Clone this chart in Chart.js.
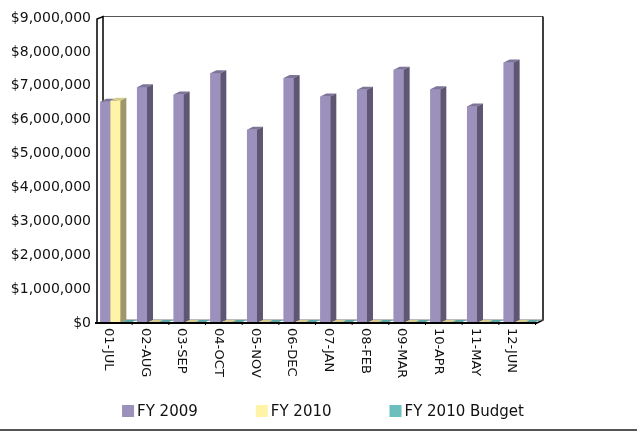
<!DOCTYPE html>
<html>
<head>
<meta charset="utf-8">
<script src="https://cdn.jsdelivr.net/npm/chart.js@4/dist/chart.umd.min.js"></script>
<style>
html,body{margin:0;padding:0;background:#fff;}
#wrap{position:relative;width:637px;height:433px;}
</style>
</head>
<body>
<div id="wrap"><canvas id="c"></canvas></div>
<script>
// ---- data ----
const months = ['01-JUL','02-AUG','03-SEP','04-OCT','05-NOV','06-DEC','07-JAN','08-FEB','09-MAR','10-APR','11-MAY','12-JUN'];
const fy2009 = [6530000, 6960000, 6740000, 7370000, 5700000, 7230000, 6680000, 6880000, 7470000, 6900000, 6390000, 7690000];
const fy2010 = [6560000, 0, 0, 0, 0, 0, 0, 0, 0, 0, 0, 0];
const fy2010Budget = [0, 0, 0, 0, 0, 0, 0, 0, 0, 0, 0, 0];
const seriesNames = ['FY 2009', 'FY 2010', 'FY 2010 Budget'];
const yMax = 9000000;
const yStep = 1000000;

// ---- styles ----
const frontColors = ['#9C91BD', '#FFF3A8', '#6CBFBD'];
const topColors   = ['#7E7499', '#D8CD8C', '#58A6A4'];
const sideColors  = ['#5E5673', '#9E976A', '#3F7F7E'];
const DX = 6, DY = 3;

const threeD = {
  id: 'threeD',
  beforeDatasetsDraw(chart) {
    const {ctx, chartArea: a} = chart;
    ctx.save();
    ctx.strokeStyle = '#555';
    ctx.lineWidth = 1;
    ctx.beginPath();
    ctx.moveTo(a.left + DX, a.top - DY + 1.5);
    ctx.lineTo(a.right + DX, a.top - DY + 1.5);
    ctx.stroke();
    ctx.strokeStyle = '#000';
    ctx.lineWidth = 1.5;
    ctx.beginPath();
    ctx.moveTo(a.right + DX, a.top - DY + 1.5);
    ctx.lineTo(a.right + DX, a.bottom - DY);
    ctx.lineTo(a.right, a.bottom);
    ctx.stroke();
    ctx.beginPath();
    ctx.moveTo(a.left, a.bottom);
    ctx.lineTo(a.left, a.top + 1);
    ctx.lineTo(a.left + DX, a.top - DY + 1.5);
    ctx.lineTo(a.left + DX, a.bottom - DY);
    ctx.stroke();
    ctx.strokeStyle = '#777';
    ctx.lineWidth = 1;
    ctx.beginPath();
    ctx.moveTo(a.left + DX, a.bottom - DY);
    ctx.lineTo(a.right + DX, a.bottom - DY);
    ctx.stroke();
    ctx.restore();
  },
  afterDatasetsDraw(chart) {
    const {ctx, chartArea: a} = chart;
    const metas = [0, 1, 2].map(i => chart.getDatasetMeta(i));
    ctx.save();
    for (let i = 0; i < months.length; i++) {
      metas.forEach((meta, d) => {
        const el = meta.data[i];
        if (!el) return;
        const w = el.width, l = el.x - w / 2, r = el.x + w / 2;
        const top = Math.min(el.y, el.base), base = el.base;
        if (base - top > 0) {
          ctx.fillStyle = frontColors[d];
          ctx.fillRect(l, top, w, base - top);
        }
        ctx.fillStyle = topColors[d];
        ctx.beginPath();
        ctx.moveTo(l, top);
        ctx.lineTo(l + DX, top - DY);
        ctx.lineTo(r + DX, top - DY);
        ctx.lineTo(r, top);
        ctx.closePath();
        ctx.fill();
        if (base - top > 0) {
          ctx.fillStyle = sideColors[d];
          ctx.beginPath();
          ctx.moveTo(r, top);
          ctx.lineTo(r + DX, top - DY);
          ctx.lineTo(r + DX, base - DY);
          ctx.lineTo(r, base);
          ctx.closePath();
          ctx.fill();
        }
      });
    }
    ctx.strokeStyle = '#000';
    ctx.lineWidth = 2;
    ctx.beginPath();
    ctx.moveTo(a.left - 2, a.bottom);
    ctx.lineTo(a.right, a.bottom);
    ctx.stroke();
    ctx.lineWidth = 1;
    const cw = (a.right - a.left) / months.length;
    for (let i = 1; i <= months.length; i++) {
      const x = a.left + i * cw;
      ctx.beginPath();
      ctx.moveTo(x, a.bottom);
      ctx.lineTo(x - 2, a.bottom + 2);
      ctx.stroke();
    }
    ctx.restore();
  },
  afterDraw(chart) {
    const {ctx, chartArea: a} = chart;
    const xs = chart.scales.x;
    ctx.save();
    ctx.fillStyle = '#111';
    ctx.font = '13px "DejaVu Sans"';
    ctx.textAlign = 'left';
    ctx.textBaseline = 'middle';
    months.forEach((m, i) => {
      const x = xs.getPixelForTick(i) - 7;
      ctx.save();
      ctx.translate(x, a.bottom + 5);
      ctx.rotate(Math.PI / 2);
      ctx.fillText(m, 0, 0);
      ctx.restore();
    });
    ctx.font = '15px "DejaVu Sans"';
    const box = 12, gapText = 3, gapItem = 58;
    const widths = seriesNames.map(n => box + gapText + ctx.measureText(n).width);
    const total = widths.reduce((s, w) => s + w, 0) + gapItem * (seriesNames.length - 1);
    let x = 323 - total / 2;
    const cy = 411;
    seriesNames.forEach((n, i) => {
      ctx.fillStyle = frontColors[i];
      ctx.fillRect(x, cy - 6, box, box);
      ctx.fillStyle = '#111';
      ctx.textBaseline = 'middle';
      ctx.fillText(n, x + box + gapText, cy + 1);
      x += widths[i] + gapItem;
    });
    ctx.fillStyle = '#555';
    ctx.fillRect(0, 429, chart.width, 2);
    ctx.restore();
  }
};

new Chart(document.getElementById('c'), {
  type: 'bar',
  data: {
    labels: months,
    datasets: [
      {label: seriesNames[0], data: fy2009, backgroundColor: frontColors[0], borderWidth: 0},
      {label: seriesNames[1], data: fy2010, backgroundColor: frontColors[1], borderWidth: 0},
      {label: seriesNames[2], data: fy2010Budget, backgroundColor: frontColors[2], borderWidth: 0}
    ]
  },
  options: {
    responsive: true,
    maintainAspectRatio: false,
    animation: false,
    layout: {padding: {top: 18, right: 100, bottom: 0, left: 0}},
    datasets: {bar: {categoryPercentage: 0.82, barPercentage: 1.0}},
    plugins: {legend: {display: false}, tooltip: {enabled: false}},
    scales: {
      x: {
        grid: {display: false, drawTicks: false},
        border: {display: false},
        ticks: {display: false},
        afterFit: s => { s.height = 110; }
      },
      y: {
        min: 0, max: yMax,
        grid: {display: false, drawTicks: false},
        border: {display: false},
        ticks: {
          stepSize: yStep,
          padding: 6,
          color: '#111',
          font: {family: '"DejaVu Sans"', size: 14},
          callback: v => '$' + Number(v).toLocaleString('en-US')
        },
        afterFit: s => { s.width = 97; }
      }
    }
  },
  plugins: [threeD]
});
</script>
</body>
</html>
